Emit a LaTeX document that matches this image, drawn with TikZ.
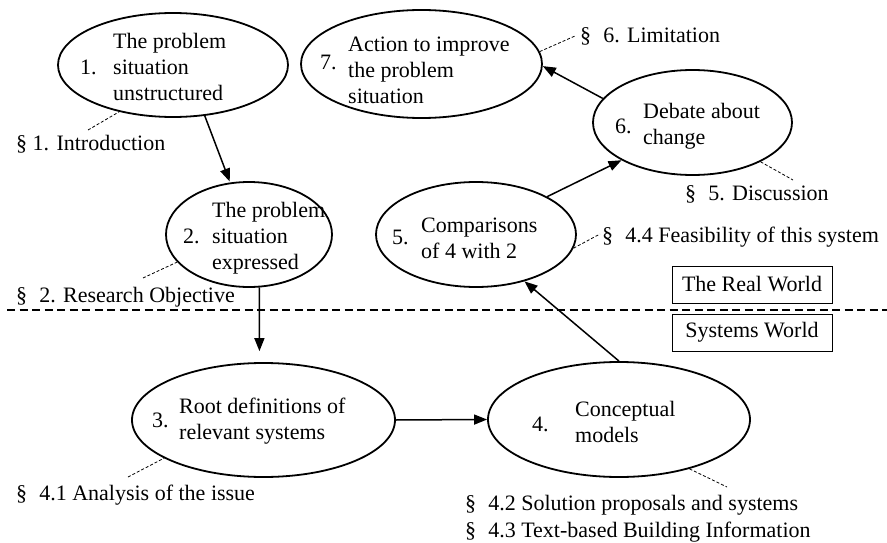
\documentclass[tikz,border=0pt]{standalone}
\usepackage{fontspec}
\setmainfont{Liberation Serif}
\usetikzlibrary{arrows.meta,shapes.geometric}
\newcommand{\ml}[1]{\begin{tabular}[t]{@{}l@{}}#1\end{tabular}}
\newcommand{\sect}{\S\hspace{0.55em}}
\begin{document}
\begin{tikzpicture}[x=1pt,y=-1pt,
  font=\fontsize{22}{26}\selectfont,
  stage/.style={draw, ellipse, line width=1.8pt, inner sep=0pt},
  txt/.style={anchor=base west, inner sep=0pt},
  flow/.style={line width=1.5pt, -{Triangle[length=13pt,width=10pt]}},
  leader/.style={dash pattern=on 3pt off 2pt, line width=0.8pt},
  divider/.style={dash pattern=on 8pt off 4.5pt, line width=1.4pt},
  worldbox/.style={draw, line width=1pt, minimum width=160pt, minimum height=37pt, inner sep=0pt}]
\useasboundingbox (0,0) rectangle (887,543);

% stages
\node[stage, minimum width=230pt, minimum height=104pt] (e1) at (173,65) {};
\node[txt] (n1) at (80,75) {1.};
\node[txt] (t1) at (113,49) {\ml{The problem\\situation\\unstructured}};

\node[stage, minimum width=166pt, minimum height=105pt] (e2) at (249,234.5) {};
\node[txt] (n2) at (183,243) {2.};
\node[txt] (t2) at (212,217) {\ml{The problem\\situation\\expressed}};

\node[stage, minimum width=241pt, minimum height=108pt] (e7) at (421.5,64) {};
\node[txt] (n7) at (320,70) {7.};
\node[txt] (t7) at (348,52) {\ml{Action to improve\\the problem\\situation}};

\node[stage, minimum width=199pt, minimum height=105pt] (e6) at (692.5,122.5) {};
\node[txt] (n6) at (615,133) {6.};
\node[txt] (t6) at (643,118) {\ml{Debate about\\change}};

\node[stage, minimum width=200pt, minimum height=105pt] (e5) at (476,234.5) {};
\node[txt] (n5) at (392,244) {5.};
\node[txt] (t5) at (421,232) {\ml{Comparisons\\of 4 with 2}};

\node[stage, minimum width=263pt, minimum height=114pt] (e3) at (263.5,420) {};
\node[txt] (n3) at (152,427) {3.};
\node[txt] (t3) at (179,413) {\ml{Root definitions of\\relevant systems}};

\node[stage, minimum width=262pt, minimum height=115pt] (e4) at (619,419.5) {};
\node[txt] (n4) at (532,431) {4.};
\node[txt] (t4) at (575,416) {\ml{Conceptual\\models}};

% world boxes and divider
\node[worldbox] (rw) at (752,284.5) {The Real World};
\node[worldbox] (sw) at (752,332.5) {Systems World};
\coordinate (dl) at (7,310);
\coordinate (dr) at (887,310);
\draw[divider] (dl) -- (dr);

% labels
\node[txt] (l1) at (16,150) {\S\ 1. Introduction};
\node[txt] (l2) at (16,302) {\sect 2. Research Objective};
\node[txt] (l3) at (16,500) {\sect 4.1 Analysis of the issue};
\node[txt] (l4) at (465,510) {\sect 4.2 Solution proposals and systems};
\node[txt] (l5) at (465,537) {\sect 4.3 Text-based Building Information};
\node[txt] (l6) at (580,43) {\sect 6. Limitation};
\node[txt] (l7) at (685,200) {\sect 5. Discussion};
\node[txt] (l8) at (602,242) {\sect 4.4 Feasibility of this system};

% leaders
\coordinate (c1) at (88,130);
\coordinate (c2) at (143,278);
\coordinate (c3) at (128,477);
\coordinate (c4) at (727,487);
\coordinate (c6) at (575,36);
\coordinate (c7) at (793,180);
\coordinate (c8) at (600,234);
\draw[leader] (c1) -- (e1.-139);
\draw[leader] (c2) -- (e2.-159);
\draw[leader] (c3) -- (e3.-159);
\draw[leader] (e4.-35) -- (c4);
\draw[leader] (e7.6) -- (c6);
\draw[leader] (e6.-30) -- (c7);
\draw[leader] (e5.-8) -- (c8);

% flow arrows
\draw[flow, shorten >=1pt] (e1.-58) -- (e2.110);
\draw[flow, shorten >=11pt] (e2.-79) -- (e3.94.5);
\draw[flow] (e3.east) -- (e4.west);
\draw[flow] (e4.north) -- (e5.-44);
\draw[flow] (e5.28) -- (e6.-152);
\draw[flow] (e6.165) -- (e7.-1);
\end{tikzpicture}
\end{document}
